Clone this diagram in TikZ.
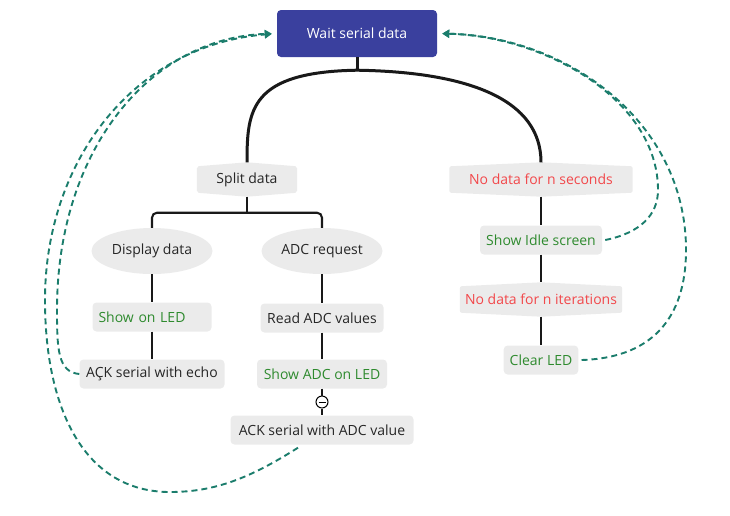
\documentclass[tikz,border=0pt]{standalone}
\usepackage{fontspec}
\setmainfont{Open Sans}
\usetikzlibrary{shapes.geometric, arrows.meta, backgrounds}
\definecolor{waitblue}{HTML}{3A409E}
\definecolor{boxgray}{HTML}{EBEBEB}
\definecolor{condred}{HTML}{F2484B}
\definecolor{okgreen}{HTML}{2E8A2E}
\definecolor{loopteal}{HTML}{1B7D6C}

\tikzset{
    startbox/.style={fill=waitblue, text=white, rounded corners=4pt, minimum width=160pt, minimum height=47pt},
    stepbox/.style={fill=boxgray, rounded corners=4pt, minimum height=29pt, inner xsep=6pt, inner ysep=0pt},
    ovalbox/.style={ellipse, fill=boxgray, minimum width=121pt, minimum height=46pt, inner sep=0pt},
    condbox/.style={minimum height=34pt, inner sep=0pt},
    foldmark/.style={circle, draw, fill=white, line width=1pt, minimum size=12pt, inner sep=0pt,
        path picture={\draw[line width=1pt] ([xshift=-3.5pt]path picture bounding box.center) -- ([xshift=3.5pt]path picture bounding box.center);}},
    redtext/.style={text=condred},
    greentext/.style={text=okgreen},
    link/.style={line width=2.1pt, black!90},
    mainlink/.style={line width=3pt, black!90},
    loopback/.style={draw=loopteal, line width=1.9pt, dash pattern=on 6pt off 4pt, -{Triangle[length=7pt,width=8pt]}, shorten >=5pt},
}

\begin{document}
\begin{tikzpicture}[x=1pt, y=-1pt, font=\fontsize{14}{16}\selectfont, text=black!85]
    \useasboundingbox (0,0) rectangle (730,515);

    % Knoten.
    \node[startbox] (wait) at (357,33.5) {Wait serial data};

    \node[condbox, minimum width=100pt] (split) at (247,179.5) {Split data};
    \node[condbox, minimum width=183pt, redtext] (nosec) at (541,179.5) {No data for n seconds};

    \node[ovalbox] (display) at (152,251) {Display data};
    \node[ovalbox] (adcreq) at (322,251) {ADC request};

    \node[stepbox, text width=107pt, align=left, greentext] (showled) at (152,317) {Show on LED};
    \node[stepbox, minimum width=145pt] (echo) at (152,374) {AÇK serial with echo};

    \node[stepbox, minimum width=123pt] (readadc) at (322,318) {Read ADC values};
    \node[stepbox, minimum width=130pt, greentext] (showadc) at (322,374) {Show ADC on LED};
    \node[foldmark] (fold) at (322,402) {};
    \node[stepbox, minimum width=183pt] (ackadc) at (322,430) {ACK serial with ADC value};

    \node[stepbox, minimum width=122pt, greentext] (idle) at (541,240) {Show Idle screen};
    \node[condbox, minimum width=162pt, redtext] (noiter) at (541,299.5) {No data for n iterations};
    \node[stepbox, minimum width=74pt, greentext] (clear) at (541,360) {Clear LED};

    \begin{pgfonlayer}{background}
        \foreach \n in {split, nosec, noiter}
        {
            \fill[boxgray, rounded corners=2pt] ([yshift=-4pt]\n.north west) -- (\n.north) -- ([yshift=-4pt]\n.north east)
                -- ([yshift=4pt]\n.south east) -- (\n.south) -- ([yshift=4pt]\n.south west) -- cycle;
        }
    \end{pgfonlayer}

    % Linien.
    \draw[mainlink] (wait.south) -- ++(0,13) coordinate (top);
    \draw[mainlink] (top) .. controls (250,72) and (247,110) .. (split.north);
    \draw[mainlink] (top) .. controls (470,72) and (541,100) .. (nosec.north);

    \draw[link] (split.south) -- ++(0,16) coordinate (splitfork);
    \draw[link, rounded corners=5pt] (display.north) |- (splitfork) -| (adcreq.north);

    \draw[link] (display) -- (showled);
    \draw[link] (showled) -- (echo);
    \draw[link] (adcreq) -- (readadc);
    \draw[link] (readadc) -- (showadc);
    \draw[link] (showadc) -- (fold);
    \draw[link] (fold) -- (ackadc);
    \draw[link] (nosec) -- (idle);
    \draw[link] (idle) -- (noiter);
    \draw[link] (noiter) -- (clear);

    % Ruecksprung.
    \draw[loopback] (echo.west) .. controls (58,372) and (57,350) .. (57,310)
        .. controls (57,150) and (150,38) .. (wait.west);
    \draw[loopback] ([xshift=-24pt,yshift=-3pt]ackadc.south) .. controls (250,478) and (215,492) .. (170,492)
        .. controls (85,492) and (45,410) .. (45,300) .. controls (45,160) and (135,45) .. (wait.west);
    \draw[loopback] ([xshift=3pt]idle.east) .. controls (640,233) and (658,215) .. (658,190)
        .. controls (658,100) and (545,36) .. (wait.east);
    \draw[loopback] ([xshift=3pt]clear.east) .. controls (650,358) and (686,320) .. (686,250)
        .. controls (686,120) and (565,36) .. (wait.east);
\end{tikzpicture}
\end{document}
